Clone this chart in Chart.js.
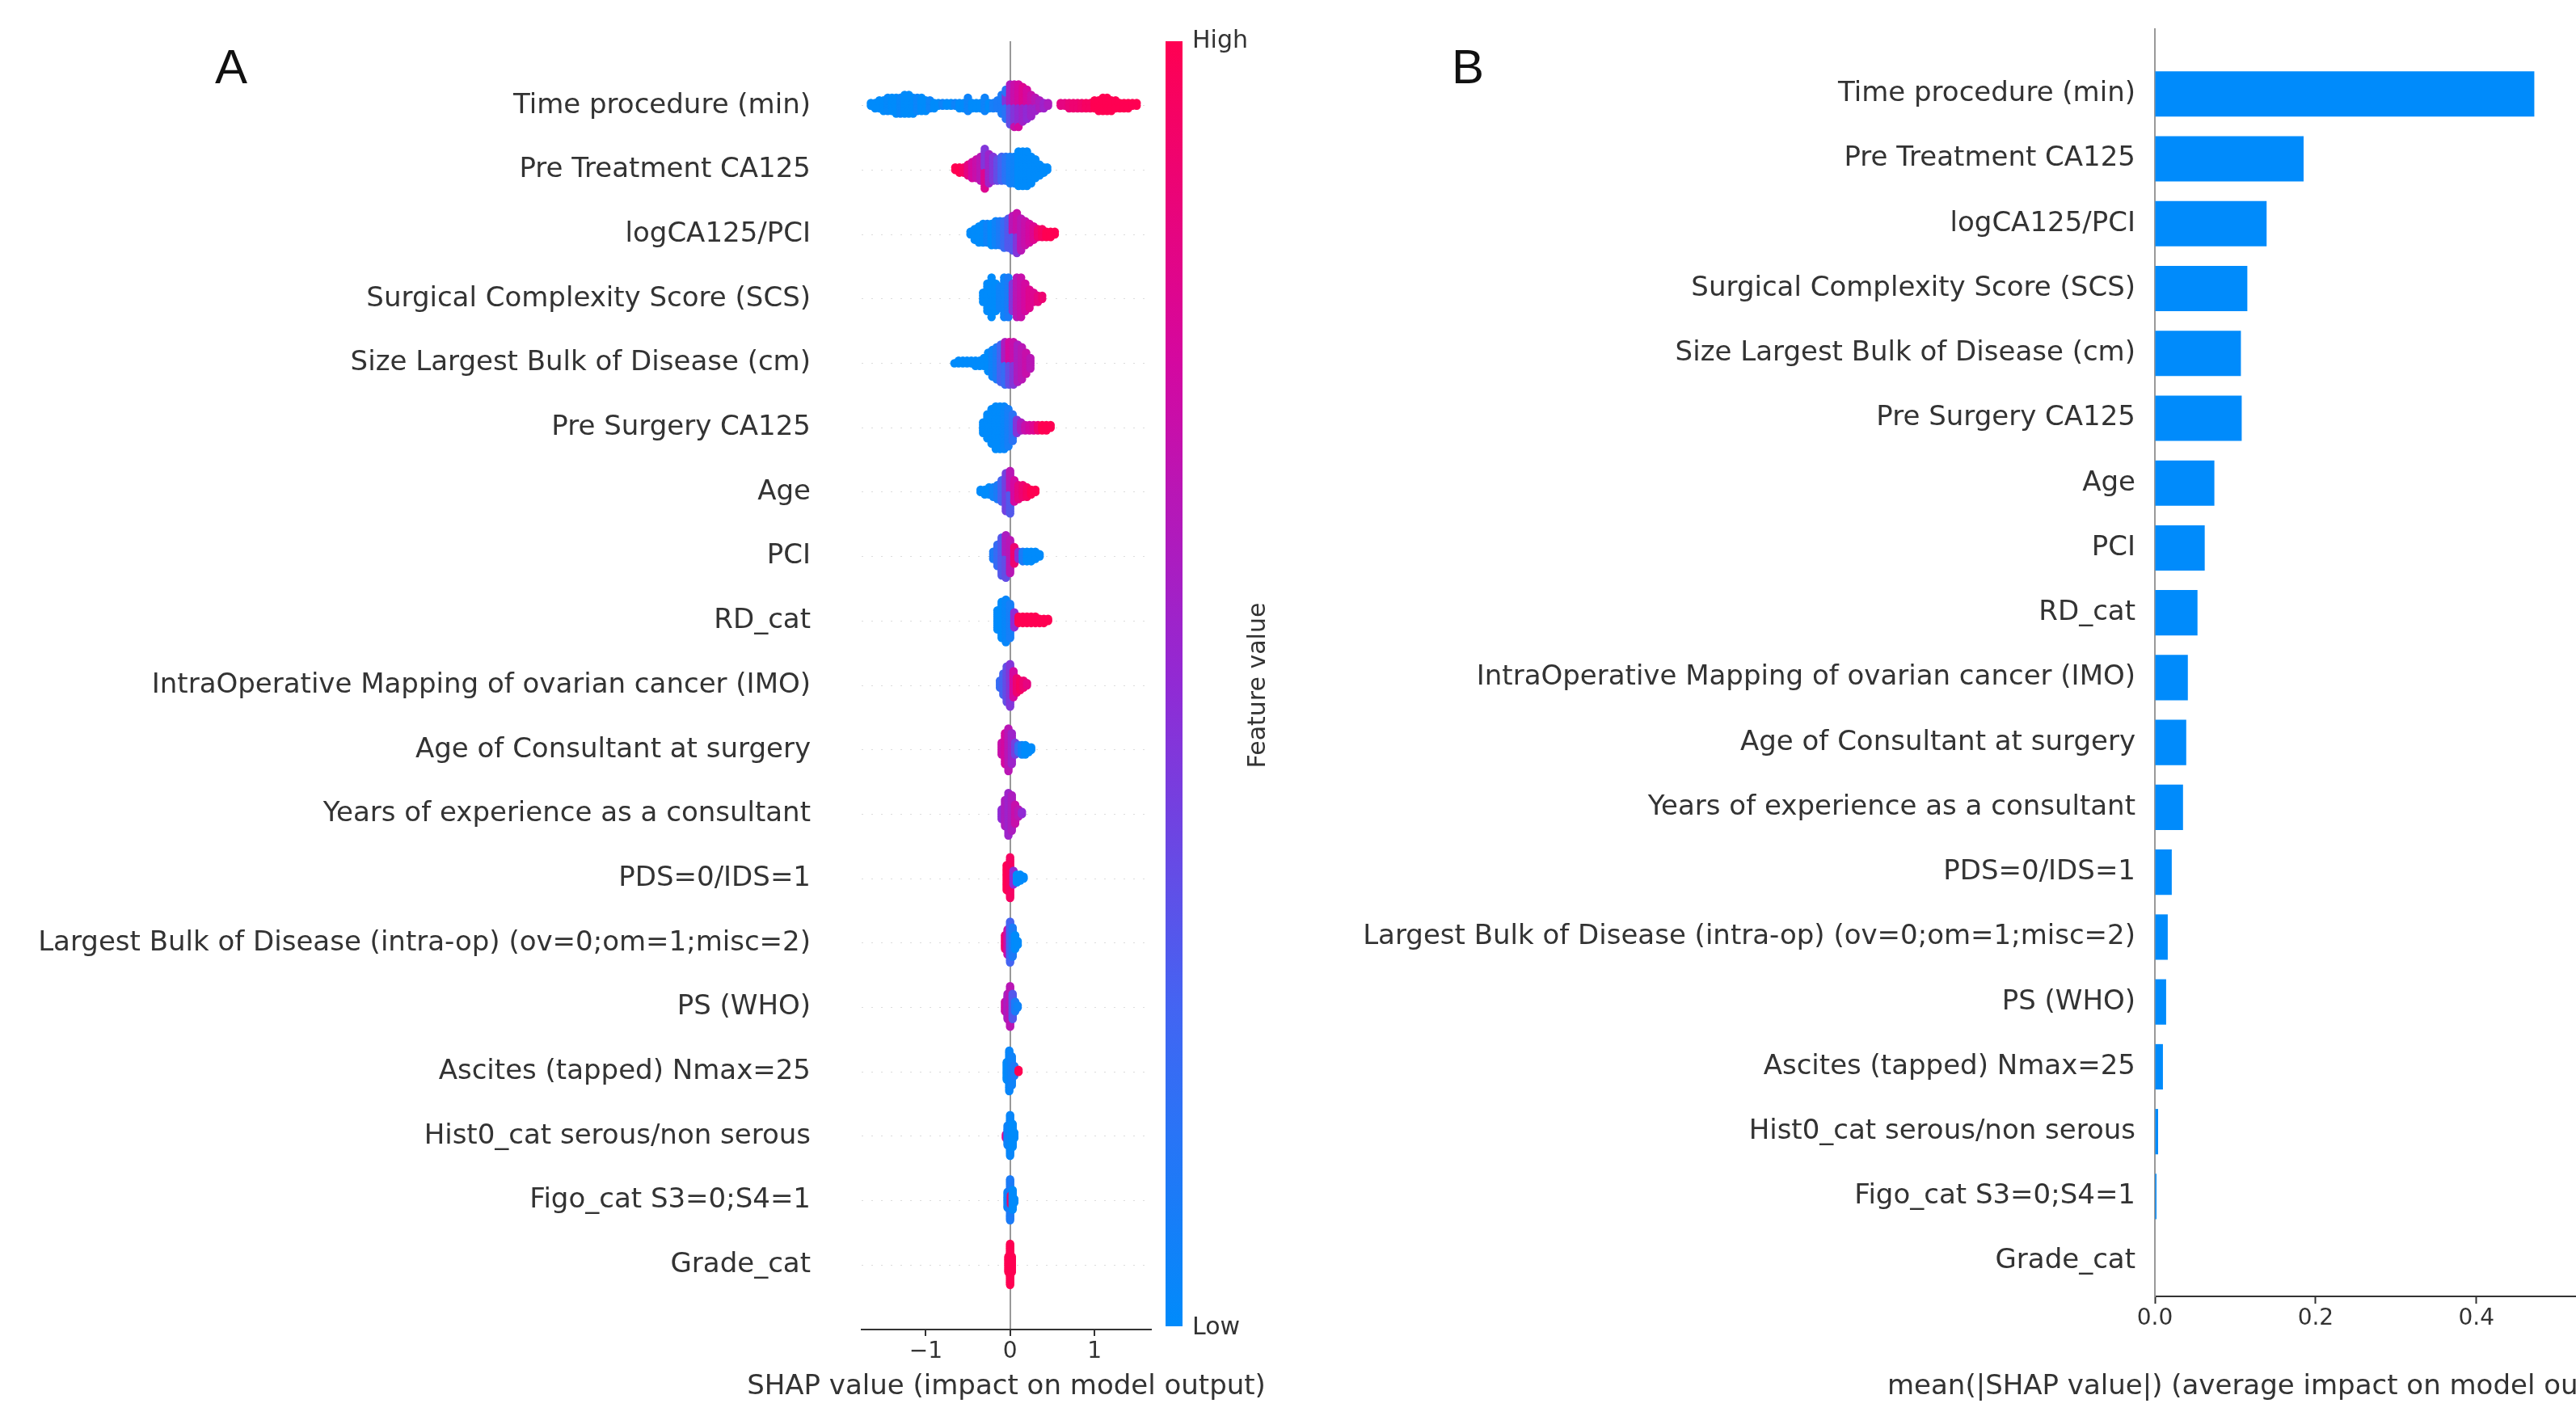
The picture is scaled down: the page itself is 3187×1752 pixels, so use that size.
<!DOCTYPE html>
<html>
<head>
<meta charset="utf-8">
<script src="https://cdn.jsdelivr.net/npm/chart.js@4.4.0/dist/chart.umd.min.js"></script>
<style>
  html, body { margin: 0; padding: 0; background: #fff; width: 3187px; height: 1752px; overflow: hidden; }
  canvas { position: absolute; top: 0; }
  #swarmChart { left: 0; }
  #barChart { left: 1600px; }
</style>
</head>
<body>
<canvas id="swarmChart" width="1660" height="1752"></canvas>
<canvas id="barChart" width="1613" height="1752"></canvas>
<script>
// feature names, top row first
var features = [
  'Time procedure (min)', 'Pre Treatment CA125', 'logCA125/PCI', 'Surgical Complexity Score (SCS)',
  'Size Largest Bulk of Disease (cm)', 'Pre Surgery CA125', 'Age', 'PCI', 'RD_cat',
  'IntraOperative Mapping of ovarian cancer (IMO)', 'Age of Consultant at surgery',
  'Years of experience as a consultant', 'PDS=0/IDS=1',
  'Largest Bulk of Disease (intra-op) (ov=0;om=1;misc=2)', 'PS (WHO)', 'Ascites (tapped) Nmax=25',
  'Hist0_cat serous/non serous', 'Figo_cat S3=0;S4=1', 'Grade_cat'
];

// panel B: mean(|SHAP value|) per feature, same order
var meanAbsShap = [0.472, 0.185, 0.139, 0.115, 0.107, 0.108, 0.074, 0.062, 0.053, 0.041, 0.039,
  0.035, 0.021, 0.016, 0.014, 0.010, 0.004, 0.002, 0.0005];

var shapTicks = [-1, 0, 1];
var barTicks = [0, 0.2, 0.4];

// panel A: beeswarm as [shap value, number of points, feature value 0..1]
var swarmTimeProcedure = [
  [-1.65,2,0],[-1.6,3,0],[-1.55,4,0],[-1.5,5,0],[-1.45,6,0.02],[-1.4,6,0],[-1.35,7,0],[-1.3,7,0.03],
  [-1.25,8,0],[-1.2,8,0],[-1.15,7,0],[-1.1,6,0.04],[-1.05,6,0],[-1.0,5,0],[-0.95,4,0.05],[-0.9,3,0],
  [-0.85,2,0],[-0.8,2,0.05],[-0.75,2,0],[-0.7,2,0],[-0.65,2,0.05],[-0.6,3,0],[-0.55,3,0],[-0.5,6,0.05],
  [-0.45,3,0],[-0.4,3,0],[-0.35,3,0],[-0.3,6,0.05],[-0.25,3,0],[-0.2,3,0.08],[-0.15,4,0.1],[-0.1,8,0.1],
  [-0.05,8,0.15],[-0.05,4,0.45],[0,8,0.35],[0,8,0.6],[0.05,8,0.45],[0.05,9,0.7],[0.1,8,0.5],[0.1,9,0.75],
  [0.15,7,0.55],[0.15,7,0.8],[0.2,6,0.5],[0.2,6,0.75],[0.25,5,0.55],[0.25,4,0.7],[0.3,3,0.55],[0.3,3,0.65],
  [0.35,4,0.6],[0.4,3,0.55],[0.45,2,0.6],
  [0.6,2,0.85],[0.65,2,0.85],[0.7,3,0.88],[0.75,3,0.9],[0.8,3,0.9],[0.85,3,0.92],[0.9,3,0.95],[0.95,3,0.95],
  [1.0,4,1],[1.05,5,1],[1.1,6,1],[1.15,6,1],[1.2,5,1],[1.25,4,1],[1.3,3,1],[1.35,3,1],[1.4,3,1],[1.45,2,1],[1.5,2,1]
];
var swarmPreTreatment = [
  [-0.65,2,1],[-0.6,3,1],[-0.55,3,0.95],[-0.5,5,0.85],[-0.45,7,0.75],[-0.4,8,0.7],[-0.35,10,0.65],
  [-0.3,8,0.8],[-0.3,8,0.45],[-0.25,12,0.55],[-0.2,10,0.45],[-0.15,9,0.35],[-0.1,10,0.25],[-0.05,10,0.15],
  [0,11,0.08],[0.05,11,0.05],[0.1,14,0],[0.15,14,0],[0.2,14,0],[0.25,11,0],[0.3,8,0],[0.35,5,0],[0.4,3,0],[0.44,2,0]
];
var swarmLogCa125 = [
  [-0.47,2,0],[-0.42,5,0],[-0.37,7,0],[-0.32,8,0],[-0.27,8,0.05],[-0.22,9,0],[-0.17,10,0.05],[-0.12,10,0.1],
  [-0.07,11,0.2],[-0.02,12,0.3],[0.03,7,0.3],[0.03,7,0.65],[0.08,8,0.45],[0.08,8,0.7],[0.13,13,0.65],
  [0.18,10,0.7],[0.23,8,0.75],[0.28,6,0.8],[0.33,4,0.9],[0.38,4,0.95],[0.43,3,1],[0.48,3,1],[0.53,2,1]
];
var swarmScs = [
  [-0.32,4,0],[-0.27,10,0],[-0.22,14,0],[-0.17,10,0],[-0.12,8,0.05],[-0.07,14,0.05],[-0.02,14,0.1],
  [0.03,10,0.45],[0.08,14,0.65],[0.13,14,0.7],[0.18,10,0.75],[0.23,7,0.8],[0.28,4,0.8],[0.33,3,0.85],[0.38,2,0.9]
];
var swarmSizeBulk = [
  [-0.66,1,0],[-0.61,2,0],[-0.56,2,0],[-0.51,2,0],[-0.46,2,0],[-0.41,3,0],[-0.36,3,0],[-0.31,4,0],
  [-0.26,8,0],[-0.21,11,0.05],[-0.16,13,0.1],[-0.11,15,0.25],[-0.06,9,0.2],[-0.06,8,0.6],
  [-0.01,9,0.35],[-0.01,8,0.75],[0.04,9,0.45],[0.04,8,0.7],[0.09,15,0.6],[0.14,13,0.65],[0.19,9,0.7],[0.24,5,0.65]
];
var swarmPreSurgery = [
  [-0.32,5,0],[-0.27,10,0],[-0.22,14,0],[-0.17,17,0],[-0.12,17,0],[-0.07,17,0.03],[-0.02,15,0.08],
  [0.03,11,0.15],[0.08,6,0.45],[0.13,4,0.6],[0.18,3,0.7],[0.23,3,0.75],[0.28,3,0.8],[0.33,3,0.9],
  [0.38,3,1],[0.43,3,1],[0.48,2,1]
];
var swarmAge = [
  [-0.35,2,0],[-0.3,3,0],[-0.25,4,0],[-0.2,5,0.05],[-0.15,7,0.1],[-0.1,10,0.25],[-0.05,17,0.4],
  [0,10,0.3],[0,9,0.65],[0.05,10,0.75],[0.1,7,0.85],[0.15,6,0.9],[0.2,5,0.95],[0.25,3,1],[0.3,2,1]
];
var swarmPci = [
  [-0.2,4,0.1],[-0.15,10,0.2],[-0.1,17,0.3],[-0.05,10,0.35],[-0.05,9,0.6],[0,15,0.65],[0.05,8,0.9],
  [0.1,4,0.5],[0.15,5,0.1],[0.2,5,0],[0.25,5,0],[0.3,4,0],[0.35,2,0]
];
var swarmRdCat = [
  [-0.15,10,0],[-0.1,18,0],[-0.05,21,0.03],[0,17,0.08],[0.05,8,0.5],[0.1,4,1],[0.15,4,1],[0.2,4,1],
  [0.25,4,1],[0.3,4,1],[0.35,3,1],[0.4,3,1],[0.45,2,1]
];
var swarmImo = [
  [-0.12,4,0.2],[-0.08,10,0.25],[-0.04,16,0.35],[0,19,0.45],[0.04,12,0.75],[0.08,7,0.9],[0.12,5,0.95],
  [0.16,4,0.9],[0.2,2,0.85]
];
var swarmAgeConsultant = [
  [-0.1,6,0.7],[-0.06,14,0.75],[-0.02,19,0.65],[0.02,14,0.55],[0.06,6,0.4],[0.1,4,0.2],[0.14,5,0.05],
  [0.18,5,0],[0.22,3,0],[0.25,2,0]
];
var swarmYearsExperience = [
  [-0.1,5,0.5],[-0.06,12,0.6],[-0.02,19,0.55],[0.02,16,0.6],[0.06,9,0.7],[0.1,4,0.65],[0.14,2,0.5]
];
var swarmPdsIds = [
  [-0.04,14,1],[0,22,0.95],[0.04,8,0.5],[0.08,5,0],[0.12,4,0],[0.16,2,0]
];
var swarmBulkIntraOp = [
  [-0.06,8,0.9],[-0.03,14,0.7],[0,22,0.25],[0.03,16,0.1],[0.06,8,0],[0.09,3,0]
];
var swarmPsWho = [
  [-0.06,6,0.7],[-0.03,14,0.6],[0,22,0.65],[0.03,14,0.3],[0.06,6,0.1],[0.09,2,0.05]
];
var swarmAscites = [
  [-0.04,10,0],[-0.01,22,0.03],[0.02,16,0.05],[0.05,6,0.1],[0.1,2,1]
];
var swarmHist0 = [
  [-0.05,3,0.8],[-0.03,12,0.05],[0,24,0.03],[0.03,14,0],[0.05,4,0]
];
var swarmFigo = [
  [-0.03,10,0.05],[0,24,0.1],[0.01,6,0.95],[0.03,12,0],[0.05,3,0]
];
var swarmGrade = [
  [-0.02,12,1],[0,30,1],[0.02,12,1]
];

var swarmRows = [swarmTimeProcedure, swarmPreTreatment, swarmLogCa125, swarmScs, swarmSizeBulk,
  swarmPreSurgery, swarmAge, swarmPci, swarmRdCat, swarmImo, swarmAgeConsultant, swarmYearsExperience,
  swarmPdsIds, swarmBulkIntraOp, swarmPsWho, swarmAscites, swarmHist0, swarmFigo, swarmGrade];

// shap red_blue colour map
var cmapStops = [[0, [0, 139, 251]], [0.25, [68, 100, 242]], [0.5, [145, 42, 212]], [0.75, [212, 8, 160]], [1, [255, 0, 82]]];
function cmap(t) {
  t = Math.max(0, Math.min(1, t));
  for (var i = 1; i < cmapStops.length; i++) {
    if (t <= cmapStops[i][0]) {
      var a = cmapStops[i - 1], b = cmapStops[i];
      var f = (t - a[0]) / (b[0] - a[0]);
      var c = a[1].map(function(v, k) { return Math.round(v + (b[1][k] - v) * f); });
      return 'rgb(' + c.join(',') + ')';
    }
  }
  return 'rgb(255,0,82)';
}

// stack the points of one row like shap does: alternate up / down inside each x bin
function layoutRow(groups, row) {
  var bins = new Map();
  groups.forEach(function(g) {
    if (!bins.has(g[0])) bins.set(g[0], []);
    bins.get(g[0]).push({ n: g[1], fv: g[2] });
  });
  var maxN = 1;
  bins.forEach(function(list) {
    var tot = list.reduce(function(s, g) { return s + g.n; }, 0);
    if (tot > maxN) maxN = tot;
  });
  var layerH = 0.33 / Math.max(1, Math.ceil((maxN - 1) / 2));
  var pts = [];
  bins.forEach(function(list, x) {
    var seq = [];
    var left = list.map(function(g) { return g.n; });
    var more = true;
    while (more) {
      more = false;
      list.forEach(function(g, k) {
        if (left[k] > 0) { seq.push(g.fv); left[k]--; more = true; }
      });
    }
    seq.forEach(function(fv, j) {
      var layer = j === 0 ? 0 : (j % 2 ? (j + 1) / 2 : -j / 2);
      pts.push({ x: x, y: row + layer * layerH, fv: fv });
    });
  });
  return pts;
}

var nRows = features.length;
var swarmPoints = [];
swarmRows.forEach(function(groups, i) {
  swarmPoints = swarmPoints.concat(layoutRow(groups, nRows - 1 - i));
});

Chart.defaults.font.family = '"DejaVu Sans", sans-serif';
Chart.defaults.color = '#333';

function rowLabel(v) { return features[nRows - 1 - v]; }
function rowTicks(scale) { scale.ticks = features.map(function(f, i) { return { value: i }; }); }
// keep the plot box where it is in the picture: no extra room for half labels
function noPad(scale) { scale.paddingTop = 0; scale.paddingBottom = 0; scale.paddingLeft = 0; scale.paddingRight = 0; }

// colour bar, x title, panel letter
var swarmDecor = {
  id: 'swarmDecor',
  afterDraw: function(chart) {
    var c = chart.ctx;
    var area = chart.chartArea;
    var top = area.top, bottom = area.bottom - 4;
    var g = c.createLinearGradient(0, bottom, 0, top);
    for (var i = 0; i <= 20; i++) g.addColorStop(i / 20, cmap(i / 20));
    c.save();
    c.fillStyle = g;
    c.fillRect(1442, top, 21, bottom - top);
    c.fillStyle = '#333';
    c.font = '30px "DejaVu Sans"';
    c.textAlign = 'left';
    c.textBaseline = 'middle';
    c.fillText('High', 1475, top);
    c.fillText('Low', 1475, bottom + 2);
    c.font = '34px "DejaVu Sans"';
    c.textAlign = 'center';
    c.fillText('SHAP value (impact on model output)', (area.left + area.right) / 2, 1716);
    c.font = '30px "DejaVu Sans"';
    c.translate(1557, 848);
    c.rotate(-Math.PI / 2);
    c.fillText('Feature value', 0, 0);
    c.restore();
    c.save();
    c.fillStyle = '#111';
    c.font = '60px "Liberation Sans"';
    c.textAlign = 'center';
    c.textBaseline = 'middle';
    c.fillText('A', 286, 86);
    c.restore();
  }
};

var barDecor = {
  id: 'barDecor',
  afterDraw: function(chart) {
    var c = chart.ctx;
    c.save();
    c.fillStyle = '#333';
    c.font = '34px "DejaVu Sans"';
    c.textAlign = 'left';
    c.textBaseline = 'middle';
    c.fillText('mean(|SHAP value|) (average impact on model output)', 735, 1716);
    c.fillStyle = '#111';
    c.font = '60px "Liberation Sans"';
    c.textAlign = 'center';
    c.fillText('B', 216, 86);
    c.restore();
  }
};

// A: beeswarm
new Chart(document.getElementById('swarmChart'), {
  type: 'scatter',
  data: {
    datasets: [{
      data: swarmPoints,
      pointRadius: 5.2,
      pointHoverRadius: 5.2,
      pointBorderWidth: 0,
      backgroundColor: function(ctx) { return ctx.raw ? cmap(ctx.raw.fv) : '#000'; }
    }]
  },
  options: {
    responsive: false,
    animation: false,
    events: [],
    layout: { padding: { top: 51, right: 236, left: 0, bottom: 0 } },
    plugins: { legend: { display: false }, tooltip: { enabled: false } },
    scales: {
      x: {
        type: 'linear', min: -1.76, max: 1.67,
        afterBuildTicks: function(s) { s.ticks = shapTicks.map(function(v) { return { value: v }; }); },
        afterFit: function(s) { s.height = 107; noPad(s); },
        ticks: {
          autoSkip: false, maxRotation: 0, padding: 3, color: '#333', font: { size: 28 },
          callback: function(v) { return v < 0 ? '\u2212' + Math.abs(v) : String(v); }
        },
        grid: {
          color: function(ctx) { return ctx.tick && ctx.tick.value === 0 ? '#999' : 'rgba(0,0,0,0)'; },
          lineWidth: 2, tickColor: '#333', tickWidth: 2, tickLength: 8
        },
        border: { display: true, color: '#333', width: 2 }
      },
      y: {
        type: 'linear', min: -1, max: 19,
        afterBuildTicks: rowTicks,
        afterFit: function(s) { s.width = 1066; noPad(s); },
        ticks: { autoSkip: false, padding: 63, color: '#333', font: { size: 34 }, callback: rowLabel },
        grid: { color: '#dcdcdc', lineWidth: 1, drawTicks: false },
        border: { display: false, dash: [2, 10] }
      }
    }
  },
  plugins: [swarmDecor]
});

// B: mean |SHAP| bars
new Chart(document.getElementById('barChart'), {
  type: 'bar',
  data: {
    datasets: [{
      data: meanAbsShap.map(function(v, i) { return { x: v, y: nRows - 1 - i }; }),
      backgroundColor: '#008bfb',
      borderWidth: 0,
      barPercentage: 0.7,
      categoryPercentage: 1
    }]
  },
  options: {
    indexAxis: 'y',
    responsive: false,
    animation: false,
    events: [],
    layout: { padding: { top: 36, right: 0, left: 0, bottom: 0 } },
    plugins: { legend: { display: false }, tooltip: { enabled: false } },
    scales: {
      x: {
        type: 'linear', min: 0, max: 0.55,
        afterBuildTicks: function(s) { s.ticks = barTicks.map(function(v) { return { value: v }; }); },
        afterFit: function(s) { s.height = 148; noPad(s); },
        ticks: {
          autoSkip: false, maxRotation: 0, padding: 2, color: '#333', font: { size: 28 },
          callback: function(v) { return v.toFixed(1); }
        },
        grid: { drawOnChartArea: false, tickColor: '#333', tickWidth: 2, tickLength: 9 },
        border: { display: true, color: '#333', width: 2 }
      },
      y: {
        type: 'linear', min: -0.54, max: 19, offset: false,
        afterBuildTicks: rowTicks,
        afterFit: function(s) { s.width = 1066; noPad(s); },
        ticks: { autoSkip: false, padding: 16, color: '#333', font: { size: 34 }, callback: rowLabel },
        grid: { display: false, offset: false },
        border: { display: true, color: '#999', width: 2 }
      }
    }
  },
  plugins: [barDecor]
});
</script>
</body>
</html>
